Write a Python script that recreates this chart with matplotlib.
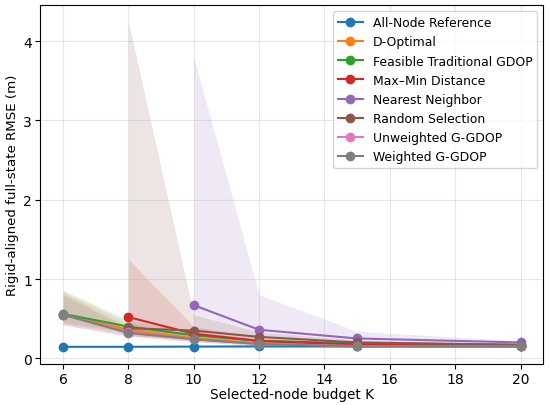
import matplotlib
matplotlib.use('Agg')
import matplotlib.pyplot as plt

# Budgets per method
k_full = [6, 8, 10, 12, 15, 20]
k_from8 = [8, 10, 12, 15, 20]
k_from10 = [10, 12, 15, 20]

# Mean RMSE and band (lo, hi) per method
all_node = [0.145, 0.145, 0.148, 0.15, 0.15, 0.15]
all_node_lo = [0.134, 0.135, 0.138, 0.14, 0.14, 0.14]
all_node_hi = [0.156, 0.156, 0.158, 0.16, 0.16, 0.16]

d_opt = [0.55, 0.36, 0.25, 0.19, 0.16, 0.15]
d_opt_lo = [0.44, 0.30, 0.21, 0.17, 0.15, 0.14]
d_opt_hi = [0.84, 0.44, 0.30, 0.22, 0.18, 0.16]

trad_gdop = [0.56, 0.40, 0.29, 0.22, 0.19, 0.17]
trad_gdop_lo = [0.45, 0.33, 0.25, 0.19, 0.17, 0.16]
trad_gdop_hi = [0.86, 0.48, 0.34, 0.25, 0.21, 0.18]

maxmin = [0.52, 0.31, 0.22, 0.17, 0.16]
maxmin_lo = [0.35, 0.24, 0.19, 0.15, 0.15]
maxmin_hi = [1.25, 0.40, 0.26, 0.19, 0.17]

nearest = [0.67, 0.36, 0.25, 0.20]
nearest_lo = [0.36, 0.26, 0.20, 0.18]
nearest_hi = [3.80, 0.80, 0.34, 0.22]

random_sel = [0.38, 0.35, 0.27, 0.20, 0.17]
random_sel_lo = [0.28, 0.25, 0.21, 0.17, 0.15]
random_sel_hi = [4.25, 0.55, 0.33, 0.23, 0.19]

unw_ggdop = [0.55, 0.33, 0.24, 0.18, 0.155, 0.15]
unw_ggdop_lo = [0.42, 0.28, 0.21, 0.16, 0.14, 0.14]
unw_ggdop_hi = [0.82, 0.39, 0.28, 0.20, 0.17, 0.16]

w_ggdop = [0.55, 0.32, 0.24, 0.18, 0.15, 0.15]
w_ggdop_lo = [0.42, 0.28, 0.21, 0.16, 0.14, 0.14]
w_ggdop_hi = [0.80, 0.38, 0.28, 0.20, 0.17, 0.16]

series = [
    ("All-Node Reference", k_full, all_node, all_node_lo, all_node_hi),
    ("D-Optimal", k_full, d_opt, d_opt_lo, d_opt_hi),
    ("Feasible Traditional GDOP", k_full, trad_gdop, trad_gdop_lo, trad_gdop_hi),
    ("Max\u2013Min Distance", k_from8, maxmin, maxmin_lo, maxmin_hi),
    ("Nearest Neighbor", k_from10, nearest, nearest_lo, nearest_hi),
    ("Random Selection", k_from8, random_sel, random_sel_lo, random_sel_hi),
    ("Unweighted G-GDOP", k_full, unw_ggdop, unw_ggdop_lo, unw_ggdop_hi),
    ("Weighted G-GDOP", k_full, w_ggdop, w_ggdop_lo, w_ggdop_hi),
]

fig, ax = plt.subplots(figsize=(5.5, 4.06), dpi=100)
fig.subplots_adjust(left=0.073, right=0.988, bottom=0.101, top=0.985)
for nombre, ks, media, lo, hi in series:
    linha, = ax.plot(ks, media, marker='o', linewidth=1.5, markersize=6, label=nombre)
    ax.fill_between(ks, lo, hi, color=linha.get_color(), alpha=0.15, linewidth=0)

ax.set_xlabel("Selected-node budget K", fontsize=9.8, labelpad=0.5)
ax.set_ylabel("Rigid-aligned full-state RMSE (m)", fontsize=9.6, labelpad=3)
ax.tick_params(labelsize=10, pad=2.5)
ax.grid(True, alpha=0.3)
ax.legend(loc='upper right', fontsize=8.9)
fig.savefig("out.png", dpi=100)
